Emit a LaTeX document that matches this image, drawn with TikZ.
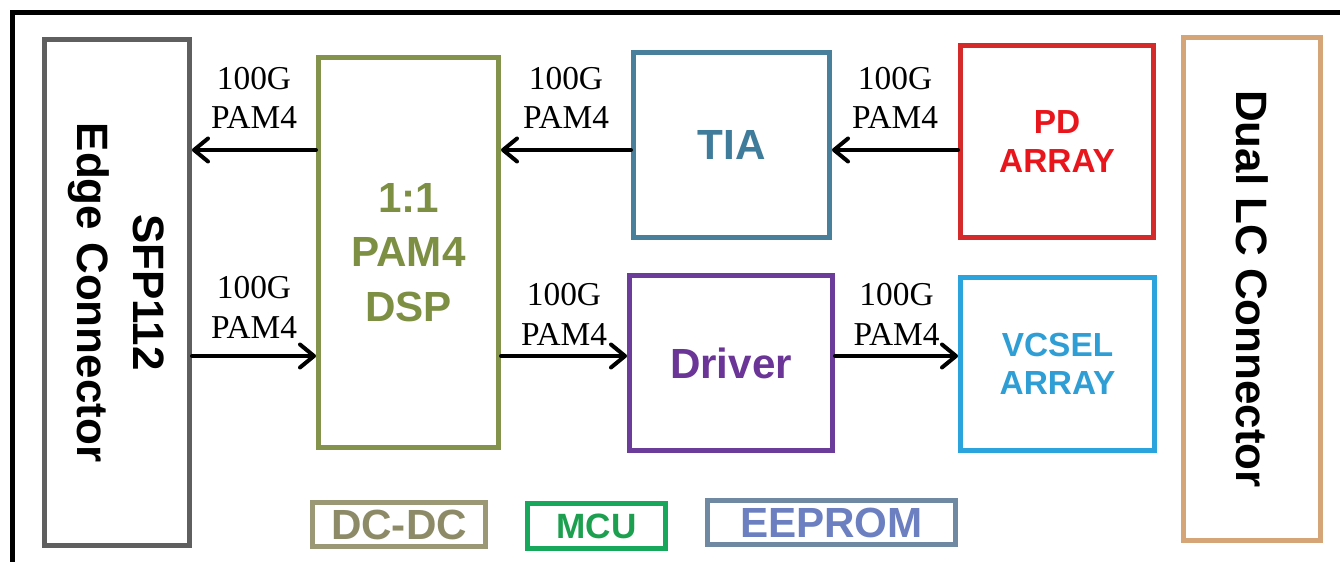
\documentclass[tikz,border=0pt]{standalone}
\usepackage{fontspec}
\setmainfont{Liberation Sans}
\newfontfamily\labfont{Liberation Serif}
\usepackage{tikz}
\usetikzlibrary{positioning,arrows.meta}
\definecolor{sfpgray}{HTML}{5F5F5F}
\definecolor{dspol}{HTML}{84934C}
\definecolor{dsptxt}{HTML}{7D8F43}
\definecolor{tiablue}{HTML}{4A7F9C}
\definecolor{tiatxt}{HTML}{3F7B9A}
\definecolor{pdred}{HTML}{D42A2A}
\definecolor{pdtxt}{HTML}{E8161C}
\definecolor{drvpurple}{HTML}{6B3C99}
\definecolor{drvtxt}{HTML}{6A3596}
\definecolor{vcselblue}{HTML}{2BA4DD}
\definecolor{vcseltxt}{HTML}{2E9ED5}
\definecolor{lctan}{HTML}{D6A577}
\definecolor{dcdcline}{HTML}{9B9876}
\definecolor{dcdctxt}{HTML}{8D8B67}
\definecolor{mcugreen}{HTML}{17A85B}
\definecolor{mcutxt}{HTML}{1CA04F}
\definecolor{eeline}{HTML}{7089A2}
\definecolor{eetxt}{HTML}{6B7FC1}
\tikzset{
  blk/.style={draw, line width=0.1cm, align=center, inner sep=0pt,
    font=\fontsize{24}{26}\selectfont\bfseries},
  arrayblk/.style={blk, font=\fontsize{19}{22}\selectfont\bfseries},
  conn/.style={blk, font=\fontsize{25}{32}\selectfont\bfseries},
  aux/.style={blk, line width=0.09cm},
  arr/.style={-{Straight Barb[round, length=2.8mm, width=4.6mm]}, line width=0.08cm, line cap=round},
  lab/.style={font=\labfont\fontsize{19}{22.5}\selectfont, align=center, inner sep=0pt},
}
\begin{document}
\begin{tikzpicture}
    \useasboundingbox (0,0) rectangle (26.8,11.24);
    % outer frame
    \draw[line width=0.1cm] (0.24,0) -- (0.24,10.98) -- (26.8,10.98);
    % connectors
    \node[conn, draw=sfpgray, minimum width=2.9cm, minimum height=10.12cm] (sfp) at (2.34,5.39)
      {\rotatebox{-90}{\begin{tabular}{@{}c@{}}SFP112\\Edge Connector\end{tabular}}};
    \node[conn, draw=lctan, minimum width=2.74cm, minimum height=10.06cm] (lc) at (25.04,5.46)
      {\rotatebox{-90}{Dual LC Connector}};
    % signal chain
    \node[blk, draw=dspol, text=dsptxt, minimum width=3.6cm, minimum height=7.8cm,
      font=\fontsize{24}{31}\selectfont\bfseries] (dsp) at (8.17,6.19) {1:1\\PAM4\\DSP};
    \node[blk, draw=tiablue, text=tiatxt, minimum width=3.92cm, minimum height=3.7cm] (tia) at (14.63,8.34) {TIA};
    \node[arrayblk, draw=pdred, text=pdtxt, minimum width=3.86cm, minimum height=3.84cm] (pd) at (21.14,8.41) {PD\\ARRAY};
    \node[blk, draw=drvpurple, text=drvtxt, minimum width=4.06cm, minimum height=3.5cm] (drv) at (14.62,3.98) {Driver};
    \node[arrayblk, draw=vcselblue, text=vcseltxt, minimum width=3.88cm, minimum height=3.46cm] (vcsel) at (21.15,3.96) {VCSEL\\ARRAY};
    % support parts
    \node[aux, draw=dcdcline, text=dcdctxt, minimum width=3.46cm, minimum height=0.88cm] (dcdc) at (7.98,0.75) {DC-DC};
    \node[aux, draw=mcugreen, text=mcutxt, minimum width=2.76cm, minimum height=0.9cm,
      font=\fontsize{20}{22}\selectfont\bfseries] (mcu) at (11.93,0.72) {MCU};
    \node[aux, draw=eeline, text=eetxt, minimum width=4.96cm, minimum height=0.88cm] (eeprom) at (16.63,0.79) {EEPROM};
    % links
    \coordinate (up) at (0,8.24);
    \coordinate (dn) at (0,4.12);
    \draw[arr] (dsp.west |- up) -- node[lab, above=11pt] (l1) {100G\\PAM4} (sfp.east |- up);
    \draw[arr] (sfp.east |- dn) -- node[lab, above=9pt] (l2) {100G\\PAM4} (dsp.west |- dn);
    \draw[arr] (tia.west |- up) -- node[lab, above=11pt] (l3) {100G\\PAM4} (dsp.east |- up);
    \draw[arr] (dsp.east |- dn) -- node[lab, above=5pt] (l4) {100G\\PAM4} (drv.west |- dn);
    \draw[arr] (pd.west |- up) -- node[lab, above=11pt] (l5) {100G\\PAM4} (tia.east |- up);
    \draw[arr] (drv.east |- dn) -- node[lab, above=5pt] (l6) {100G\\PAM4} (vcsel.west |- dn);
\end{tikzpicture}
\end{document}
